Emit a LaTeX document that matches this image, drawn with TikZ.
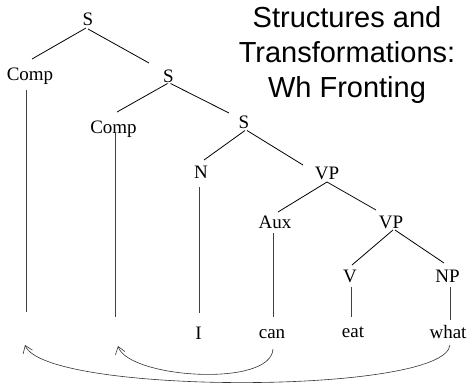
\documentclass[tikz,border=0pt]{standalone}
\usepackage{fontspec}
\setmainfont{Liberation Serif}
\newfontfamily\titlefont{Liberation Sans}
\usetikzlibrary{arrows.meta}

% a tree branch between two labels, each end given as an offset from the label's base point
\newcommand\branchline[4]{\draw[branch] ([shift={(#2)}]#1.base) -- ([shift={(#4)}]#3.base);}

\begin{document}
\begin{tikzpicture}[x=1pt,y=-1pt,
  cat/.style={inner sep=0pt, anchor=base, font=\fontsize{19}{22}\selectfont},
  branch/.style={line width=0.8pt},
  trace/.style={line width=0.8pt, black!75},
  move/.style={line width=0.6pt, black!80, -{Straight Barb[length=7pt,width=10pt]}},
]
\useasboundingbox (0,0) rectangle (469,383);

% title
\node[font=\titlefont\fontsize{29}{35}\selectfont, align=center, inner sep=0pt, anchor=north]
  (title) at (347,6) {Structures and\\Transformations:\\Wh Fronting};

% categories
\node[cat] (s1)    at (88,25)     {S};
\node[cat] (comp1) at (30,80)     {Comp};
\node[cat] (s2)    at (168.5,82)  {S};
\node[cat] (comp2) at (113.5,133) {Comp};
\node[cat] (s3)    at (244,128)   {S};
\node[cat] (n)     at (201,178)   {N};
\node[cat] (vp1)   at (327,179)   {VP};
\node[cat] (aux)   at (275,228)   {Aux};
\node[cat] (vp2)   at (391,228)   {VP};
\node[cat] (v)     at (350,282)   {V};
\node[cat] (np)    at (447.5,282) {NP};

% words
\node[cat] (wi)    at (198.5,339) {I};
\node[cat] (wcan)  at (272,338)   {can};
\node[cat] (weat)  at (353,337)   {eat};
\node[cat] (wwhat) at (448,338)   {what};

% branches
\branchline{s1}{-2,3}{comp1}{2,-21}
\branchline{s1}{0,4}{s2}{-19.5,-19}
\branchline{s2}{-1,1.5}{comp2}{3.5,-21}
\branchline{s2}{2,1.5}{s3}{-15,-15}
\branchline{s3}{1,2.5}{n}{3,-18}
\branchline{s3}{3,2.5}{vp1}{-24,-14}
\branchline{vp1}{0,3}{aux}{3,-16}
\branchline{vp1}{0,3}{vp2}{-15,-18}
\branchline{vp2}{2,2}{v}{2,-17}
\branchline{vp2}{4,2}{np}{-3.5,-19}

% vertical lines down to the words and to the empty positions
\coordinate (t1) at (26,312);
\coordinate (t2) at (115,317);
\draw[trace] ([shift={(-4,10)}]comp1.base) -- (t1);
\draw[trace] ([shift={(1.5,0)}]comp2.base) -- (t2);
\draw[trace] ([shift={(-2,9)}]n.base) -- ([shift={(0.5,-26)}]wi.base);
\draw[trace] ([shift={(-2,5)}]aux.base) -- ([shift={(1,-21)}]wcan.base);
\draw[trace] ([shift={(1,5)}]v.base) -- ([shift={(-2,-20)}]weat.base);
\draw[trace] ([shift={(2.5,5)}]np.base) -- ([shift={(2,-18)}]wwhat.base);

% movement arrows
\coordinate (land1) at (25,345);
\coordinate (land2) at (118,346);
\draw[move] ([shift={(2,7)}]wwhat.base) .. controls (445,395) and (45,395) .. (land1);
\draw[move] ([shift={(1,11)}]wcan.base) .. controls (271,388) and (128,378) .. (land2);
\end{tikzpicture}
\end{document}
